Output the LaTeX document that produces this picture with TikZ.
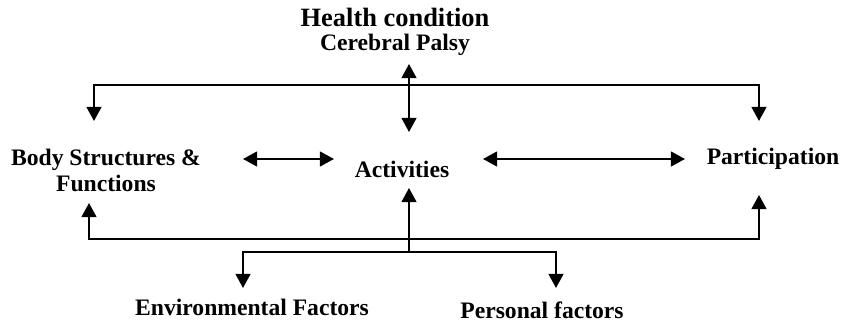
\documentclass[tikz,border=0pt]{standalone}
\usepackage{fontspec}
\setmainfont{Liberation Serif}
\usetikzlibrary{arrows.meta}

\tikzset{
  lbl/.style={font=\fontsize{16.8}{18.5}\selectfont\bfseries, inner sep=0pt, align=center},
  link/.style={line width=1.4pt},
  conn/.style={link, -{Triangle[length=10pt,width=10.5pt]}},
  both/.style={link, {Triangle[length=10pt,width=10.5pt]}-{Triangle[length=10pt,width=10.5pt]}}
}

\begin{document}
\begin{tikzpicture}
\useasboundingbox (0,0) rectangle (21.1,-8.175);
\node[lbl,anchor=base,font=\fontsize{18.8}{22}\selectfont\bfseries] (hc) at (9.875,-0.675) {Health condition};
\node[lbl,anchor=base] (cp) at (9.875,-1.275) {Cerebral Palsy};
\node[lbl] (bsf) at (2.65,-4.25) {Body Structures \&\\Functions};
\node[lbl,anchor=base] (act) at (10.05,-4.45) {Activities};
\node[lbl,anchor=base] (par) at (19.325,-4.125) {Participation};
\node[lbl,anchor=base] (env) at (6.3,-7.875) {Environmental Factors};
\node[lbl,anchor=base] (pf) at (13.55,-7.95) {Personal factors};
\coordinate (cpTip) at (10.225,-1.6);
\coordinate (actTop) at (10.225,-3.3);
\coordinate (topMid) at (10.225,-2.125);
\coordinate (bsfTop) at (2.35,-3.025);
\coordinate (parTop) at (18.975,-3.025);
\coordinate (bsfR) at (6.075,-3.975);
\coordinate (actL) at (8.35,-3.975);
\coordinate (actR) at (12.075,-3.975);
\coordinate (parL) at (17.125,-3.975);
\coordinate (botMid) at (10.225,-5.975);
\coordinate (bsfBot) at (2.225,-5.075);
\coordinate (parBot) at (18.975,-4.875);
\coordinate (actBot) at (10.225,-4.7);
\coordinate (fork) at (10.225,-6.3);
\coordinate (envTop) at (6.075,-7.2);
\coordinate (pfTop) at (13.9,-7.2);
\draw[both] (actTop) -- (cpTip);
\draw[conn] (topMid) -| (bsfTop);
\draw[conn] (topMid) -| (parTop);
\draw[both] (bsfR) -- (actL);
\draw[both] (actR) -- (parL);
\draw[conn] (botMid) -| (bsfBot);
\draw[conn] (botMid) -| (parBot);
\draw[conn] (fork) -- (actBot);
\draw[conn] (fork) -| (envTop);
\draw[conn] (fork) -| (pfTop);
\end{tikzpicture}
\end{document}
